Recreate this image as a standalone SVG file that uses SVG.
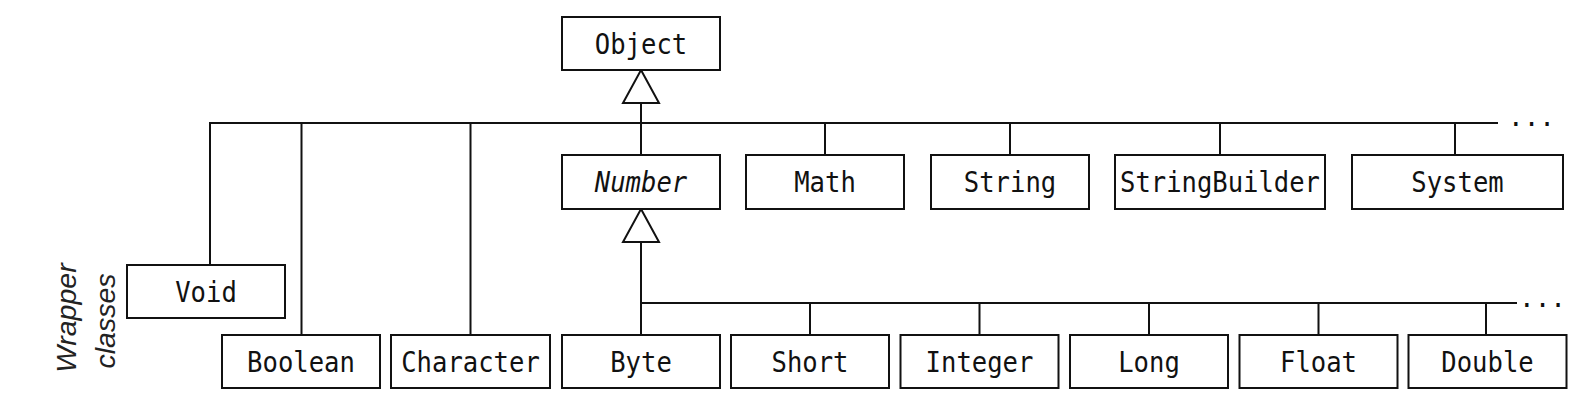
<svg xmlns="http://www.w3.org/2000/svg" width="1581" height="408" viewBox="0 0 1581 408">
<style>
.box{fill:#fff;stroke:#111;stroke-width:2}
.lbl{font-family:"DejaVu Sans Mono","Liberation Mono",monospace;font-size:28px;fill:#111;text-anchor:middle}
.it{font-style:italic}
.ln{fill:none;stroke:#111;stroke-width:2}
.tri{fill:#fff;stroke:#111;stroke-width:2;stroke-linejoin:miter}
.dots{font-family:"DejaVu Sans Mono","Liberation Mono",monospace;font-size:26px;fill:#111}
.side{font-family:"Liberation Sans",Arial,sans-serif;font-style:italic;font-size:28.5px;fill:#222;text-anchor:middle}
</style>
<rect width="1581" height="408" fill="#fff"/>
<g id="connectors">
<path class="ln" d="M210,265 V123 H1498"/>
<path class="ln" d="M301.5,123 V335 M470.5,123 V335 M641,103 V155 M825,123 V155 M1010,123 V155 M1220,123 V155 M1455,123 V155"/>
<path class="ln" d="M641,242 V335 M641,303 H1517 M810,303 V335 M979.5,303 V335 M1149,303 V335 M1318.5,303 V335 M1486,303 V335"/>
<polygon class="tri" points="641,70 659,103 623,103"/>
<polygon class="tri" points="641,209 659,242 623,242"/>
<text class="dots" x="1508" y="126">...</text>
<text class="dots" x="1519" y="307">...</text>
</g>
<g id="node-object"><rect class="box" x="562" y="17" width="158" height="53"/><text class="lbl" x="641" y="53.5" textLength="92.4" lengthAdjust="spacingAndGlyphs">Object</text></g>
<g id="node-number"><rect class="box" x="562" y="155" width="158" height="54"/><text class="lbl it" x="641" y="192" textLength="92.4" lengthAdjust="spacingAndGlyphs">Number</text></g>
<g id="node-math"><rect class="box" x="746" y="155" width="158" height="54"/><text class="lbl" x="825" y="192" textLength="61.6" lengthAdjust="spacingAndGlyphs">Math</text></g>
<g id="node-string"><rect class="box" x="931" y="155" width="158" height="54"/><text class="lbl" x="1010" y="192" textLength="92.4" lengthAdjust="spacingAndGlyphs">String</text></g>
<g id="node-stringbuilder"><rect class="box" x="1115" y="155" width="210" height="54"/><text class="lbl" x="1220" y="192" textLength="200" lengthAdjust="spacingAndGlyphs">StringBuilder</text></g>
<g id="node-system"><rect class="box" x="1352" y="155" width="211" height="54"/><text class="lbl" x="1457.5" y="192" textLength="92.4" lengthAdjust="spacingAndGlyphs">System</text></g>
<g id="node-void"><rect class="box" x="127" y="265" width="158" height="53"/><text class="lbl" x="206" y="302" textLength="61.6" lengthAdjust="spacingAndGlyphs">Void</text></g>
<g id="node-boolean"><rect class="box" x="222" y="335" width="158" height="53"/><text class="lbl" x="301" y="372" textLength="107.8" lengthAdjust="spacingAndGlyphs">Boolean</text></g>
<g id="node-character"><rect class="box" x="391" y="335" width="159" height="53"/><text class="lbl" x="470.5" y="372" textLength="138.6" lengthAdjust="spacingAndGlyphs">Character</text></g>
<g id="node-byte"><rect class="box" x="562" y="335" width="158" height="53"/><text class="lbl" x="641" y="372" textLength="61.6" lengthAdjust="spacingAndGlyphs">Byte</text></g>
<g id="node-short"><rect class="box" x="731" y="335" width="158" height="53"/><text class="lbl" x="810" y="372" textLength="77" lengthAdjust="spacingAndGlyphs">Short</text></g>
<g id="node-integer"><rect class="box" x="900.5" y="335" width="158" height="53"/><text class="lbl" x="979.5" y="372" textLength="107.8" lengthAdjust="spacingAndGlyphs">Integer</text></g>
<g id="node-long"><rect class="box" x="1070" y="335" width="158" height="53"/><text class="lbl" x="1149" y="372" textLength="61.6" lengthAdjust="spacingAndGlyphs">Long</text></g>
<g id="node-float"><rect class="box" x="1239.5" y="335" width="158" height="53"/><text class="lbl" x="1318.5" y="372" textLength="77" lengthAdjust="spacingAndGlyphs">Float</text></g>
<g id="node-double"><rect class="box" x="1408.5" y="335" width="158" height="53"/><text class="lbl" x="1487.5" y="372" textLength="92.4" lengthAdjust="spacingAndGlyphs">Double</text></g>
<g id="label-wrapper">
<text class="side" transform="translate(76,318) rotate(-90)">Wrapper</text>
<text class="side" transform="translate(115,321) rotate(-90)">classes</text>
</g>
</svg>
